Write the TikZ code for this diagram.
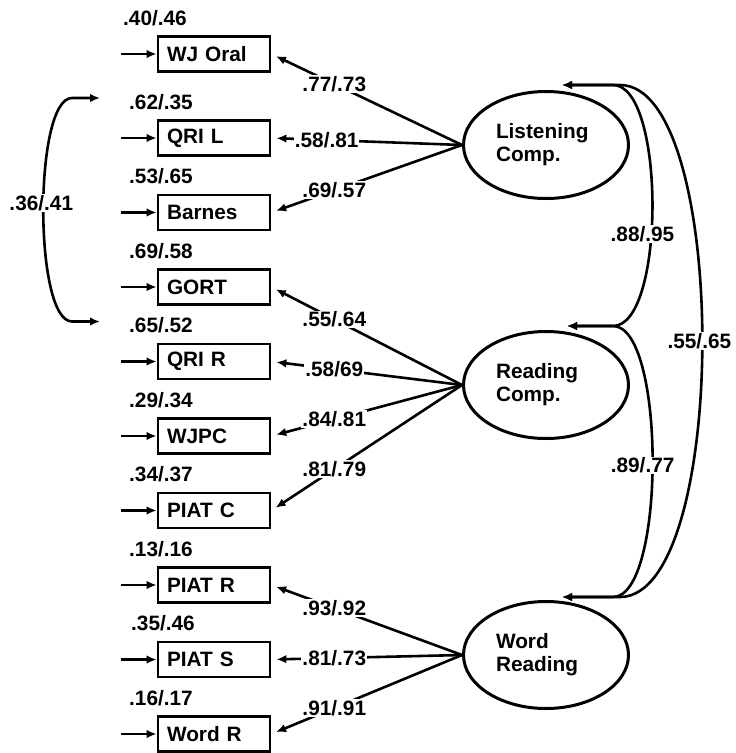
\documentclass[tikz,border=0pt]{standalone}
\usepackage{fontspec}
\setmainfont{Liberation Sans}
\usetikzlibrary{shapes.geometric, positioning, arrows.meta, calc}

\tikzset{
    obs/.style={draw, rectangle, line width=2.8pt, text width=94pt, inner xsep=9pt, minimum height=35pt, align=left},
    lat/.style={draw, ellipse, line width=3pt, minimum width=165pt, minimum height=107pt, inner sep=0pt, text width=100pt, align=left},
    coef/.style={fill=white, inner sep=1pt}
}

\begin{document}
\begin{tikzpicture}[x=1pt, y=-1pt, node distance=74.5pt, on grid, line width=2.6pt,
    >={Latex[length=10pt, width=8.5pt]}, font=\fontsize{20.8}{23}\selectfont\bfseries]
    \useasboundingbox (0,0) rectangle (736,753);

    \node[obs] (wj) at (214,54) {WJ Oral};
    \node[obs] (qril) [below=84pt of wj] {QRI L};
    \node[obs] (barnes) [below=of qril] {Barnes};
    \node[obs] (gort) [below=of barnes] {GORT};
    \node[obs] (qrir) [below=of gort] {QRI R};
    \node[obs] (wjpc) [below=of qrir] {WJPC};
    \node[obs] (piatc) [below=of wjpc] {PIAT C};
    \node[obs] (piatr) [below=of piatc] {PIAT R};
    \node[obs] (piats) [below=of piatr] {PIAT S};
    \node[obs] (wordr) [below=of piats] {Word R};

    \node (e1) [above left=36pt and 59pt of wj] {.40/.46};
    \node (e2) [above left=36pt and 53pt of qril] {.62/.35};
    \node (e3) [above left=36pt and 53pt of barnes] {.53/.65};
    \node (e4) [above left=36pt and 53pt of gort] {.69/.58};
    \node (e5) [above left=36pt and 53pt of qrir] {.65/.52};
    \node (e6) [above left=36pt and 53pt of wjpc] {.29/.34};
    \node (e7) [above left=36pt and 53pt of piatc] {.34/.37};
    \node (e8) [above left=36pt and 53pt of piatr] {.13/.16};
    \node (e9) [above left=36pt and 51pt of piats] {.35/.46};
    \node (e10) [above left=36pt and 53pt of wordr] {.16/.17};

    \node[lat] (lc) at (546,145) {Listening\\Comp.};
    \node[lat] (rc) [below=240pt of lc] {Reading\\Comp.};
    \node[lat] (wr) [below=270pt of rc] {Word\\Reading};

    \path[->]
    ([xshift=-36pt]wj.west) edge (wj.west)
    ([xshift=-36pt]qril.west) edge (qril.west)
    ([xshift=-36pt]barnes.west) edge (barnes.west)
    ([xshift=-36pt]gort.west) edge (gort.west)
    ([xshift=-36pt]qrir.west) edge (qrir.west)
    ([xshift=-36pt]wjpc.west) edge (wjpc.west)
    ([xshift=-36pt]piatc.west) edge (piatc.west)
    ([xshift=-36pt]piatr.west) edge (piatr.west)
    ([xshift=-36pt]piats.west) edge (piats.west)
    ([xshift=-36pt]wordr.west) edge (wordr.west);

    \path[->, shorten >=5pt]
    (lc.west) edge node[coef, pos=.67] {.77/.73} (wj.east)
        (lc.west) edge node[coef, pos=.71] {.58/.81} (qril.east)
        (lc.west) edge node[coef, pos=.67] {.69/.57} (barnes.east)
    (rc.west) edge node[coef, pos=.67] {.55/.64} (gort.east)
        (rc.west) edge node[coef, pos=.67] {.58/69} (qrir.east)
        (rc.west) edge node[coef, pos=.67] {.84/.81} (wjpc.east)
        (rc.west) edge node[coef, pos=.67] {.81/.79} (piatc.east)
    (wr.west) edge node[coef, pos=.67] {.93/.92} (piatr.east)
        (wr.west) edge node[coef, pos=.67] {.81/.73} (piats.east)
        (wr.west) edge node[coef, pos=.67] {.91/.91} (wordr.east);

    \coordinate (lctop) at ([xshift=16pt, yshift=5pt]lc.north);
    \coordinate (rctop) at ([xshift=21pt, yshift=4pt]rc.north);
    \coordinate (wrtop) at ([xshift=16pt, yshift=3pt]wr.north);
    \coordinate (qrilcov) at ([xshift=-61pt, yshift=4pt]e2.center);
    \coordinate (qrircov) at ([xshift=-61pt, yshift=4pt]e5.center);

    \draw[<->] (lctop) -- ++(51,0) to[out=0, in=0, looseness=.56] node[coef, pos=.58, xshift=-9pt] {.88/.95} ($(rctop)+(46,0)$) -- (rctop);
    \draw[<->] (rctop) -- ++(46,0) to[out=0, in=0, looseness=.5] node[coef, pos=.51, xshift=-10pt] {.89/.77} ($(wrtop)+(51,0)$) -- (wrtop);
    \draw[<->] (lctop) -- ++(58,0) to[out=0, in=0, looseness=.55] node[coef, pos=.5, xshift=-3pt] {.55/.65} ($(wrtop)+(58,0)$) -- (wrtop);
    \draw[<->] (qrilcov) -- ++(-28,0) to[out=180, in=180, looseness=.44] node[coef, pos=.48, xshift=-2pt] {.36/.41} ($(qrircov)+(-28,0)$) -- (qrircov);
\end{tikzpicture}
\end{document}
